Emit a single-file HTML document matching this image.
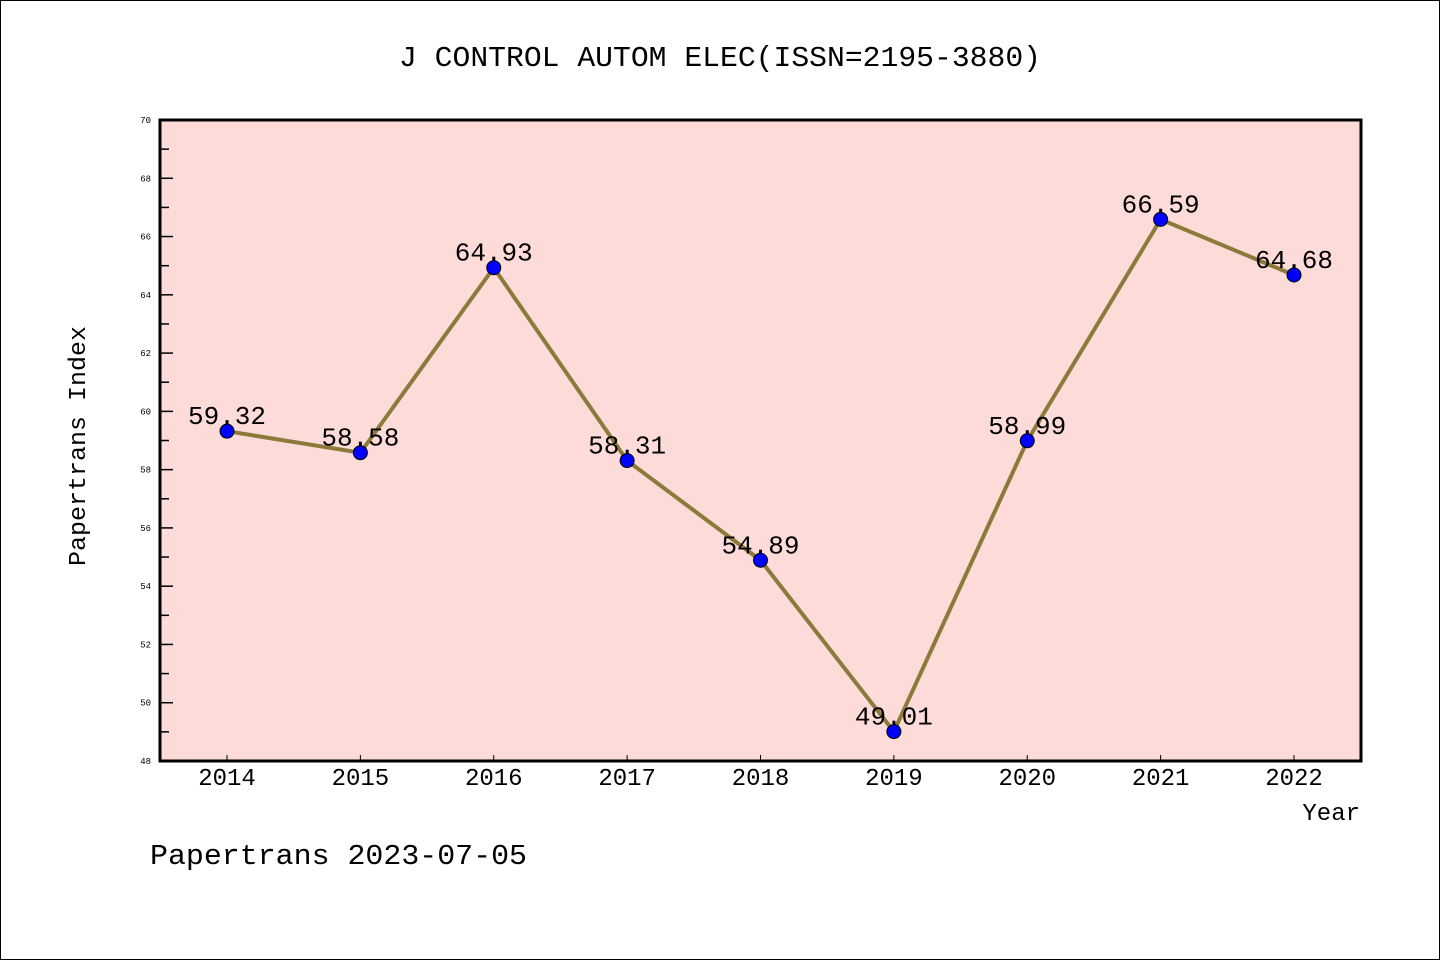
<!DOCTYPE html>
<html><head><meta charset="utf-8"><style>body{margin:0;background:#fff}svg{display:block}</style></head>
<body>
<svg id="chart" width="1440" height="960" xmlns="http://www.w3.org/2000/svg" font-family="'Liberation Mono',monospace">
<rect x="0.5" y="0.5" width="1439" height="959" fill="#fff" stroke="#000"/>
<text x="720" y="66" text-anchor="middle" font-size="29" textLength="642" lengthAdjust="spacingAndGlyphs">J CONTROL AUTOM ELEC(ISSN=2195-3880)</text>
<rect x="160" y="120" width="1201" height="641" fill="#fddbd8"/>
<g id="axes"></g>
<g id="marks"></g>
<rect x="160" y="120" width="1201" height="641" fill="none" stroke="#000" stroke-width="3"/>
<text transform="translate(85,446) rotate(-90)" text-anchor="middle" font-size="24" textLength="240" lengthAdjust="spacingAndGlyphs">Papertrans Index</text>
<text x="1360" y="820" text-anchor="end" font-size="24">Year</text>
<text x="150" y="864" font-size="29" textLength="377" lengthAdjust="spacingAndGlyphs">Papertrans 2023-07-05</text>
</svg>
<script>
const years = ['2014','2015','2016','2017','2018','2019','2020','2021','2022'];
const values = [59.32,58.58,64.93,58.31,54.89,49.01,58.99,66.59,64.68];
const yTicks = [48,50,52,54,56,58,60,62,64,66,68,70];
const NS='http://www.w3.org/2000/svg';
const yMin=48,yMax=70,plotTop=120,plotBot=761;
function yS(v){return plotBot-(v-yMin)/(yMax-yMin)*(plotBot-plotTop);}
function xS(i){return 227+i*(1294-227)/(years.length-1);}
function mk(t,a,p){const e=document.createElementNS(NS,t);for(const k in a)e.setAttribute(k,a[k]);p.appendChild(e);return e;}
const axesG=document.getElementById('axes'),marksG=document.getElementById('marks');
yTicks.forEach((v,i)=>{
  const l=mk('line',{x1:160,x2:173,y1:yS(v),y2:yS(v),stroke:'#000','stroke-width':1.5},axesG);
  
  
  const t=mk('text',{x:151,y:yS(v)+3,'text-anchor':'end','font-size':9},axesG);t.textContent=v;
  
  
  if(i<yTicks.length-1){const m=mk('line',{x1:160,x2:169,y1:yS(v+1),y2:yS(v+1),stroke:'#000','stroke-width':1.5},axesG);
  
  }
});
years.forEach((yr,i)=>{
  const l=mk('line',{x1:xS(i),x2:xS(i),y1:plotBot,y2:plotBot-6,stroke:'#000','stroke-width':1},axesG);
  
  
  const t=mk('text',{x:xS(i),y:785,'text-anchor':'middle','font-size':24},axesG);t.textContent=yr;
  
  
});
const pl=mk('polyline',{points:values.map((v,i)=>xS(i)+','+yS(v)).join(' '),fill:'none',stroke:'#8b7a3a','stroke-width':4},marksG);


values.forEach((v,i)=>{
  const c=mk('circle',{cx:xS(i),cy:yS(v),r:7,fill:'#0000ff',stroke:'#000','stroke-width':1},marksG);
  
  
  const t=mk('text',{x:xS(i),y:yS(v)-7,'text-anchor':'middle','font-size':26},marksG);t.textContent=v.toFixed(2);
  
  
});
</script>
</body></html>
